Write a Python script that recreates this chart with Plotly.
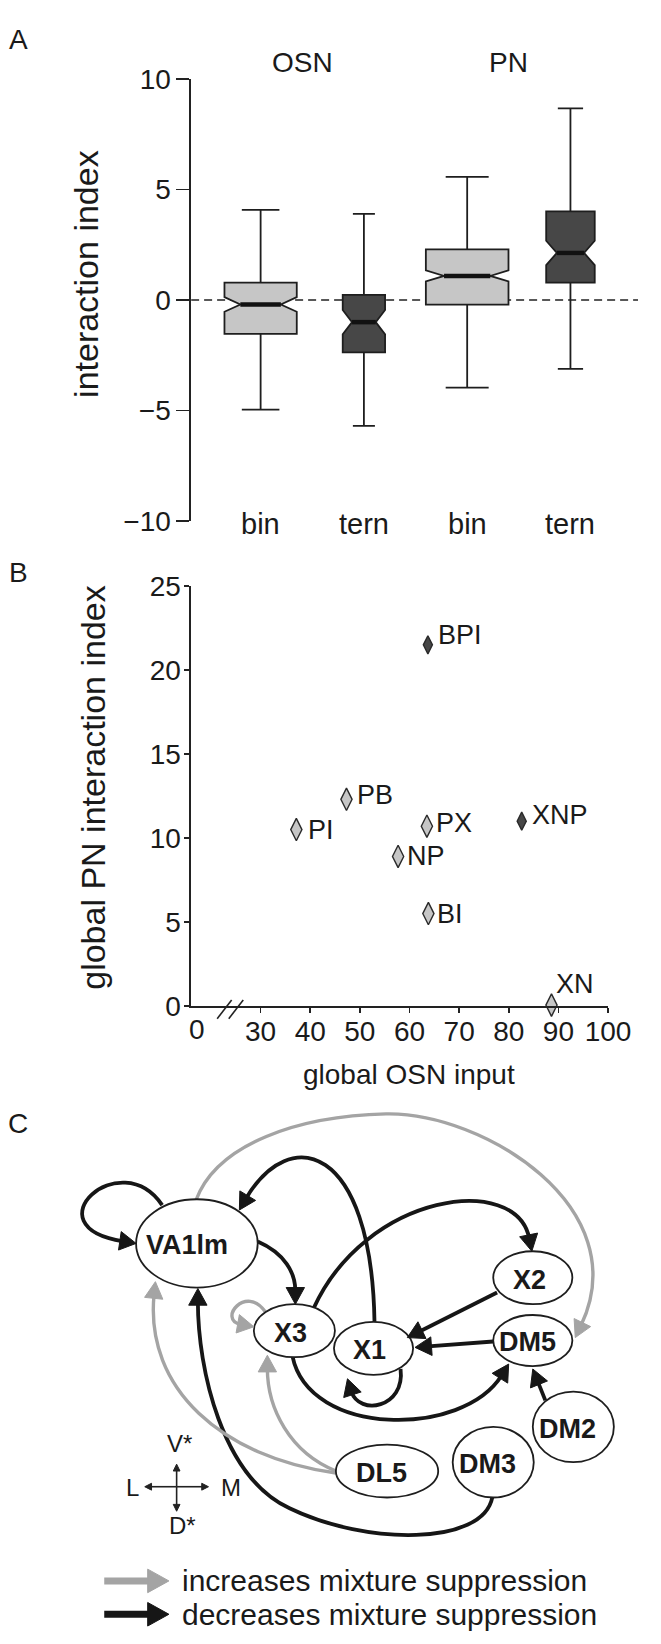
import math
import plotly.graph_objects as go

W, H = 661, 1644
FONT = "Liberation Sans, Arial, Helvetica, sans-serif"
TXT = "#1a1a1a"

# ---------------- Panel A data (interaction index, box statistics) ----------------
a_labels = ["bin", "tern", "bin", "tern"]
a_groups = ["OSN", "PN"]
a_q1 = [-1.53, -2.37, -0.21, 0.79]
a_median = [-0.20, -1.00, 1.09, 2.13]
a_q3 = [0.79, 0.23, 2.29, 4.01]
a_lowerfence = [-4.95, -5.69, -3.96, -3.11]
a_upperfence = [4.07, 3.89, 5.57, 8.66]
a_notchspan = [0.33, 0.55, 0.25, 0.55]
a_yticks = [-10, -5, 0, 5, 10]
a_yticktext = ["\u221210", "\u22125", "0", "5", "10"]

# ---------------- Panel B data (global OSN input vs PN interaction) ----------------
b_names = ["BPI", "PB", "PI", "PX", "XNP", "NP", "BI", "XN"]
b_osn = [63.7, 47.3, 37.2, 63.5, 82.6, 57.7, 63.8, 88.6]
b_pn = [21.5, 12.3, 10.5, 10.7, 11.0, 8.9, 5.5, 0.05]
b_kind = ["tern", "bin", "bin", "bin", "tern", "bin", "bin", "bin"]
b_xticks = [30, 40, 50, 60, 70, 80, 90, 100]
b_yticks = [0, 5, 10, 15, 20, 25]

# ---------------- Panel C data (glomerular interaction network) ----------------
c_names = ["VA1lm", "X3", "X1", "X2", "DM5", "DM2", "DM3", "DL5"]
c_x = [204, 305, 387, 552, 552, 594, 511, 401]
c_y = [1252, 1341, 1359, 1287, 1351, 1439, 1475, 1484]
c_rx = [63, 42, 41, 41, 41, 42, 42, 53]
c_ry = [45, 27, 27, 27, 26, 36, 36, 27]
c_edge_from = ["VA1lm", "VA1lm", "X1", "X3", "X2", "DM5", "X1", "X3", "DM2", "DM3",
               "VA1lm", "X3", "DL5", "DL5"]
c_edge_to = ["VA1lm", "X3", "VA1lm", "X2", "X1", "X1", "X1", "DM5", "DM5", "VA1lm",
             "DM5", "X3", "VA1lm", "X3"]
c_edge_effect = ["dec"] * 10 + ["inc"] * 4
c_edge_route = [
    [(168, 1213), (125, 1150), (30, 1235), (141, 1252)],
    [(267, 1250), (295, 1262), (306, 1282), (306, 1314)],
    [(388, 1332), (385, 1150), (300, 1130), (248, 1218)],
    [(325, 1318), (380, 1200), (535, 1180), (551, 1260)],
    [(515, 1302), (422, 1348)],
    [(511, 1352), (430, 1358)],
    [(415, 1380), (420, 1420), (372, 1428), (360, 1390)],
    [(303, 1367), (320, 1450), (480, 1450), (527, 1375)],
    [(565, 1412), (552, 1380)],
    [(510, 1511), (500, 1560), (380, 1560), (300, 1522), (230, 1490), (205, 1380), (205, 1298)],
    [(203, 1208), (225, 1150), (310, 1122), (400, 1120), (500, 1118), (660, 1215), (596, 1348)],
    [(275, 1322), (255, 1293), (225, 1330), (263, 1337)],
    [(348, 1486), (230, 1470), (150, 1400), (161, 1291)],
    [(348, 1484), (300, 1465), (277, 1420), (277, 1366)],
]
c_legend = ["increases mixture suppression", "decreases mixture suppression"]

# ---------------- styles ----------------
a_pos = [1, 2, 3, 4]
a_width = [0.70, 0.41, 0.80, 0.47]
LIGHT, DARK = "#c6c6c6", "#474747"
a_fill = [LIGHT, DARK, LIGHT, DARK]
EDGE = "#1e1e1e"
GRAY_ARROW = "#a4a4a4"
BLACK_ARROW = "#161616"
c_label_dx = [-10, -4, -4.5, -3, -5.5, -6, -6, -5.5]
b_dx = [8, 9, 10, 7, 8, 7, 7, 3]
b_dy = [10, 4, 0, 3, 6, 0, 0, 21]


def px_x(p):
    return p / W


def px_y(p):
    return 1 - p / H


fig = go.Figure()

# Panel A boxes
for i in range(4):
    fig.add_trace(go.Box(
        x=[a_pos[i]], q1=[a_q1[i]], median=[a_median[i]], q3=[a_q3[i]],
        lowerfence=[a_lowerfence[i]], upperfence=[a_upperfence[i]],
        notchspan=[a_notchspan[i]], notched=True, notchwidth=0.22,
        width=a_width[i], whiskerwidth=0.52, fillcolor=a_fill[i],
        line=dict(color=EDGE, width=1.8), boxpoints=False,
        xaxis="x", yaxis="y", hoverinfo="skip",
    ))
    half = a_width[i] * 0.28
    fig.add_trace(go.Scatter(
        x=[a_pos[i] - half, a_pos[i] + half], y=[a_median[i], a_median[i]],
        mode="lines", line=dict(color="#111111", width=4.5),
        xaxis="x", yaxis="y", hoverinfo="skip",
    ))

# Panel B scatter
for kind, col, size in [("bin", LIGHT, 16), ("tern", DARK, 13)]:
    idx = [i for i, k in enumerate(b_kind) if k == kind]
    fig.add_trace(go.Scatter(
        x=[b_osn[i] for i in idx], y=[b_pn[i] for i in idx], mode="markers",
        marker=dict(symbol="diamond-tall", size=size, color=col,
                    line=dict(color="#2a2a2a", width=1.4)),
        cliponaxis=False, xaxis="x2", yaxis="y2", hoverinfo="skip",
    ))

# Panel C invisible anchor trace (node centres)
fig.add_trace(go.Scatter(x=c_x, y=c_y, mode="markers", marker=dict(opacity=0),
                         xaxis="x3", yaxis="y3", hoverinfo="skip"))

annotations = []
shapes = []


def text(x, y, s, size, xref="paper", yref="paper", xanchor="center", yanchor="middle", **kw):
    annotations.append(dict(x=x, y=y, xref=xref, yref=yref, text=s, showarrow=False,
                            xanchor=xanchor, yanchor=yanchor,
                            font=dict(family=FONT, size=size, color=TXT), **kw))


# ---- Panel A decorations
shapes.append(dict(type="line", xref="x", yref="y", x0=0.327, x1=4.654, y0=0, y1=0,
                   line=dict(color="#222222", width=1.7, dash="8px,5px"), layer="below"))
for i in range(4):
    text(a_pos[i], -10, a_labels[i], 29, xref="x", yref="y", yshift=-3)
for g, cx in zip(a_groups, [313, 527]):
    text(px_x(cx), px_y(48), g, 28)
text(px_x(89), px_y(264), "interaction index", 34, textangle=-90)

# ---- Panel B decorations
for i, nm in enumerate(b_names):
    text(b_osn[i], b_pn[i], nm, 27, xref="x2", yref="y2", xanchor="left",
         xshift=b_dx[i], yshift=b_dy[i])
text(17.2, px_y(1034), "0", 28, xref="x2")
text(px_x(97), px_y(788), "global PN interaction index", 34, textangle=-90)
text(px_x(424), px_y(1080), "global OSN input", 28)
for x0 in [225, 237]:
    shapes.append(dict(type="line", xref="x3", yref="y3", x0=x0, y0=1023, x1=x0 + 15, y1=1004,
                       line=dict(color="#222", width=1.6)))

# panel letters
for letter, (lx, ly) in zip(["A", "B", "C"], [(19, 25), (19, 568), (19, 1130)]):
    text(px_x(lx), px_y(ly), letter, 28)


# ---- Panel C network
def unit(a, b):
    dx, dy = b[0] - a[0], b[1] - a[1]
    d = math.hypot(dx, dy)
    return dx / d, dy / d


def head_path(tip, u, L, hw):
    bx, by = tip[0] - u[0] * L, tip[1] - u[1] * L
    px, py = -u[1], u[0]
    return (f"M{tip[0]:.1f},{tip[1]:.1f} L{bx + px * hw:.1f},{by + py * hw:.1f} "
            f"L{bx - px * hw:.1f},{by - py * hw:.1f} Z")


line_shapes, head_shapes = [], []
L_HEAD, HW_HEAD = 17, 9.5
for route, eff in zip(c_edge_route, c_edge_effect):
    col = BLACK_ARROW if eff == "dec" else GRAY_ARROW
    lw = 3.8 if eff == "dec" else 3.4
    tip = route[-1]
    u = unit(route[-2], tip)
    end = (tip[0] - u[0] * L_HEAD * 0.8, tip[1] - u[1] * L_HEAD * 0.8)
    pts = list(route[:-1]) + [end]
    p = f"M{pts[0][0]},{pts[0][1]}"
    if len(pts) == 2:
        p += f" L{end[0]:.1f},{end[1]:.1f}"
    else:
        for k in range(1, len(pts), 3):
            a, b, c = pts[k], pts[k + 1], pts[k + 2]
            p += f" C{a[0]:.1f},{a[1]:.1f} {b[0]:.1f},{b[1]:.1f} {c[0]:.1f},{c[1]:.1f}"
    line_shapes.append(dict(type="path", xref="x3", yref="y3", path=p,
                            line=dict(color=col, width=lw), fillcolor="rgba(0,0,0,0)"))
    head_shapes.append(dict(type="path", xref="x3", yref="y3",
                            path=head_path(tip, u, L_HEAD, HW_HEAD),
                            line=dict(color=col, width=1), fillcolor=col))

shapes += line_shapes
for i, nm in enumerate(c_names):
    shapes.append(dict(type="circle", xref="x3", yref="y3",
                       x0=c_x[i] - c_rx[i], x1=c_x[i] + c_rx[i],
                       y0=c_y[i] - c_ry[i], y1=c_y[i] + c_ry[i],
                       line=dict(color="#1e1e1e", width=1.8), fillcolor="white"))
    text(c_x[i] + c_label_dx[i], c_y[i] + 2, f"<b>{nm}</b>", 27, xref="x3", yref="y3")
shapes += head_shapes

# compass
for (x0, y0, x1, y1) in [(183, 1500, 183, 1477), (183, 1500, 183, 1525),
                          (183, 1500, 150, 1500), (183, 1500, 216, 1500)]:
    u = unit((x0, y0), (x1, y1))
    shapes.append(dict(type="line", xref="x3", yref="y3", x0=x0, y0=y0,
                       x1=x1 - u[0] * 4, y1=y1 - u[1] * 4, line=dict(color="#222", width=1.6)))
    shapes.append(dict(type="path", xref="x3", yref="y3", path=head_path((x1, y1), u, 7, 3.5),
                       line=dict(color="#222", width=1), fillcolor="#222"))
for t, (tx, ty) in zip(["V*", "D*", "L", "M"], [(186, 1456), (189, 1540), (137, 1501), (239, 1501)]):
    text(tx, ty, t, 24, xref="x3", yref="y3")

# legend
for txt, col, ly in zip(c_legend, [GRAY_ARROW, BLACK_ARROW], [1596, 1630]):
    shapes.append(dict(type="line", xref="x3", yref="y3", x0=108, x1=156, y0=ly, y1=ly,
                       line=dict(color=col, width=7)))
    shapes.append(dict(type="path", xref="x3", yref="y3", path=head_path((175, ly), (1, 0), 22, 12),
                       line=dict(color=col, width=1), fillcolor=col))
    text(186, ly, txt, 30, xref="x3", yref="y3", xanchor="left")

axis_common = dict(showgrid=False, zeroline=False, showline=True, linecolor="#222",
                   linewidth=1.7, ticks="outside", tickcolor="#222", tickwidth=1.7,
                   tickfont=dict(family=FONT, size=28, color=TXT))

fig.update_layout(
    width=W, height=H, margin=dict(l=0, r=0, t=0, b=0), autosize=False,
    paper_bgcolor="white", plot_bgcolor="rgba(0,0,0,0)", showlegend=False,
    xaxis=dict(domain=[px_x(198), 1.0], range=[0.327, 4.654], visible=False, anchor="y"),
    yaxis=dict(domain=[px_y(516), px_y(65)], range=[-10, 10], anchor="x",
               tickvals=a_yticks, ticktext=a_yticktext, ticklen=13,
               ticklabelstandoff=0, **axis_common),
    xaxis2=dict(domain=[px_x(198), px_x(630)], range=[16, 100], anchor="y2",
                tickvals=b_xticks, ticklen=5, ticklabelstandoff=-5, **axis_common),
    yaxis2=dict(domain=[px_y(1010), px_y(582)], range=[0, 25], anchor="x2",
                tickvals=b_yticks, ticklen=5, ticklabelstandoff=-2, **axis_common),
    xaxis3=dict(domain=[0, 1], range=[0, W], visible=False, anchor="y3", fixedrange=True),
    yaxis3=dict(domain=[0, 1], range=[H, 0], visible=False, anchor="x3", fixedrange=True),
    shapes=shapes, annotations=annotations,
)

fig.write_html("out.html", config={"displayModeBar": False, "staticPlot": True},
               post_script="document.body.style.margin='0px';"
                           "document.body.style.overflow='hidden';")
